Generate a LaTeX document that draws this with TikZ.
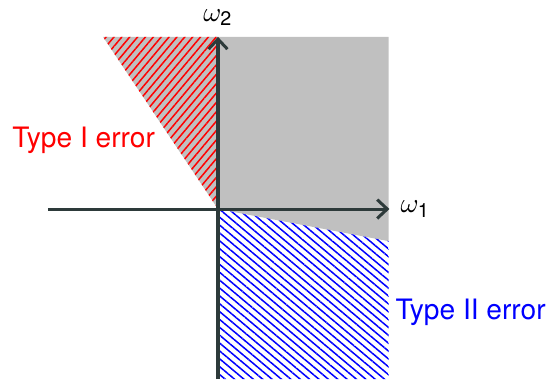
\documentclass[tikz,border=0pt]{standalone}
\usepackage{amsmath}
\usepackage{fontspec}
\setmainfont{TeX Gyre Heros}
\usetikzlibrary{arrows.meta,patterns.meta}
\definecolor{axisgray}{RGB}{45,58,58}
\definecolor{regiongray}{RGB}{192,192,192}

\begin{document}
\begin{tikzpicture}[>={Straight Barb[length=4pt,width=7.5pt]},
  axis/.style={->,axisgray,line width=1.2pt},
  lbl/.style={font=\fontsize{11.2}{13}\selectfont,inner sep=0pt}]
  \useasboundingbox (-3.052,-2.38) rectangle (4.662,2.926);
  % decision regions
  \fill[regiongray] (0,0)--(-1.61,2.41)--(2.39,2.41)--(2.39,-0.45)--cycle;
  \fill[pattern={Lines[angle=50,distance=2.4pt,line width=0.6pt]},pattern color=red]
    (0,0)--(-1.61,2.41)--(0,2.41)--cycle;
  \fill[pattern={Lines[angle=-40,distance=2.4pt,line width=0.6pt]},pattern color=blue]
    (0,0)--(2.39,-0.45)--(2.39,-2.38)--(0,-2.38)--cycle;
  % axes
  \draw[axis] (-2.38,0)--(2.4,0);
  \draw[axis] (0,-2.38)--(0,2.41);
  \node[lbl,anchor=west] (w1) at (2.55,0) {$\omega_{\text{1}}$};
  \node[lbl] (w2) at (0,2.68) {$\omega_{\text{2}}$};
  \node[lbl,red,anchor=base west] (err1) at (-2.884,0.868) {Type I error};
  \node[lbl,blue,anchor=base west] (err2) at (2.478,-1.54) {Type II error};
\end{tikzpicture}
\end{document}
